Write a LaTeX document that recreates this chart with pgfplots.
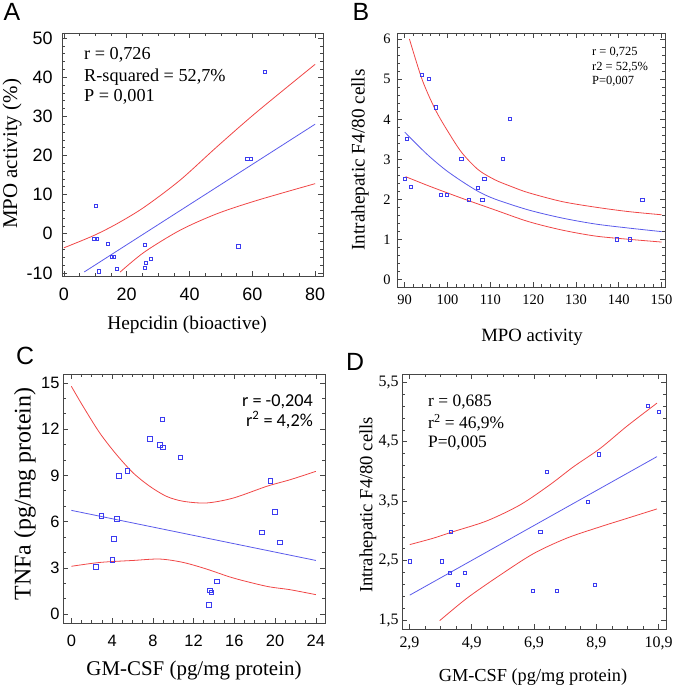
\documentclass[border=0pt]{standalone}
\usepackage{pgfplots}
\pgfplotsset{compat=1.18}
\usepackage{fontspec}
\setmainfont{Liberation Serif}
\newfontfamily\arial{Liberation Sans}
\newfontfamily\calibri{Carlito}
\definecolor{pt}{RGB}{60,60,240}
\definecolor{fitb}{RGB}{90,90,235}
\definecolor{cir}{RGB}{240,70,70}
\definecolor{frame}{RGB}{70,70,70}
\pgfplotsset{
  panel/.style={scale only axis, anchor=south west,
    axis line style={frame, line width=0.9pt},
    tick style={frame, line width=0.6pt},
    major tick length=5bp, minor tick length=3bp, tick align=inside,
    clip=true},
  pts/.style={only marks, mark=square, mark size=1.6bp, mark options={pt, line width=0.6pt}},
  fit/.style={no marks, smooth, fitb, line width=0.8pt},
  ci/.style={no marks, smooth, cir, line width=0.8pt},
}
\begin{document}
\begin{tikzpicture}
\path[use as bounding box] (0,0) rectangle (675bp,688bp);
% ---------------- A
\begin{axis}[panel, at={(62bp,412bp)}, width=261bp, height=243bp,
  xmin=-0.6, xmax=82.5, ymin=-10.8, ymax=51.3,
  xtick={0,20,40,60,80}, ytick={-10,0,10,20,30,40,50},
  xticklabels={0,20,40,60,80}, yticklabels={-10,0,10,20,30,40,50},
  minor x tick num=3, minor y tick num=4,
  ticklabel style={font=\arial\fontsize{18}{20}\selectfont},
  xticklabel style={yshift=-8bp}, yticklabel style={xshift=-6bp}]
\addplot[pts] coordinates {(10.1,7.2)(9.7,-1.3)(10.6,-1.3)(11.2,-9.6)(13.9,-2.6)(15.3,-5.8)(15.8,-5.8)(16.9,-9.0)(25.7,-2.9)(25.7,-8.7)(26.1,-7.4)(27.6,-6.4)(55.5,-3.2)(58.4,19.1)(59.6,19.1)(63.9,41.4)};
\addplot[fit] coordinates {(6.5,-9.76)(80,28.0)};
\addplot[ci] coordinates {(0,-3.6)(9.4,-0.5)(17,2.6)(25.6,6.8)(37,13.7)(48.7,22.2)(61.4,31.1)(80,43.3)};
\addplot[ci] coordinates {(17.9,-9.8)(25.6,-4.7)(37,0.9)(48.7,5.1)(61.4,8.5)(80,12.8)};
\end{axis}
% ---------------- B
\begin{axis}[panel, at={(397bp,401bp)}, width=268bp, height=254bp,
  xmin=88.2, xmax=150.8, ymin=-0.18, ymax=6.15,
  xtick={90,100,...,150}, ytick={0,1,...,6},
  xticklabels={90,100,110,120,130,140,150}, yticklabels={0,1,2,3,4,5,6},
  minor x tick num=4, minor y tick num=4,
  ticklabel style={font=\fontsize{14.5}{16}\selectfont},
  xticklabel style={yshift=-4bp}, yticklabel style={xshift=-3bp}]
\addplot[pts] coordinates {(90.0,2.51)(90.5,3.51)(91.4,2.31)(93.9,5.10)(95.7,5.0)(97.3,4.30)(98.5,2.11)(99.9,2.11)(103.2,3.01)(105.0,2.0)(107.0,2.30)(108.1,2.0)(108.6,2.51)(113.0,3.01)(114.5,4.01)(139.6,1.01)(142.5,1.01)(145.5,2.0)};
\addplot[fit] coordinates {(90,3.68)(92.5,3.41)(95.6,3.09)(99.5,2.74)(103.4,2.45)(107.2,2.20)(111.1,2.01)(118.9,1.74)(126.7,1.54)(134.5,1.39)(142.2,1.29)(150,1.20)};
\addplot[ci] coordinates {(91.1,6.0)(94.1,4.98)(97.2,4.23)(100.3,3.66)(103.4,3.16)(107.2,2.74)(111.1,2.49)(115.0,2.32)(118.9,2.17)(126.7,1.95)(134.5,1.81)(142.2,1.70)(150,1.62)};
\addplot[ci] coordinates {(90.2,2.57)(95.6,2.34)(103.4,2.03)(111.1,1.74)(118.9,1.45)(126.7,1.24)(134.5,1.09)(142.2,1.01)(150,0.94)};
\end{axis}
% ---------------- C
\begin{axis}[panel, at={(63bp,65bp)}, width=262bp, height=249bp,
  xmin=-0.82, xmax=24.9, ymin=-0.58, ymax=15.58,
  xtick={0,4,...,24}, ytick={0,3,...,15},
  xticklabels={0,4,8,12,16,20,24}, yticklabels={0,3,6,9,12,15},
  minor x tick num=3, minor y tick num=2,
  ticklabel style={font=\arial\fontsize{16.5}{18}\selectfont},
  xticklabel style={yshift=-9bp}]
\addplot[pts, mark size=2.3bp] coordinates {(2.39,3.05)(2.92,6.39)(4.0,3.53)(4.16,4.87)(4.49,6.19)(4.66,8.96)(5.48,9.31)(7.7,11.36)(8.66,11.0)(8.98,10.82)(8.92,12.64)(10.69,10.17)(13.48,0.61)(13.6,1.54)(13.74,1.41)(14.3,2.12)(18.72,5.30)(19.54,8.66)(20.0,6.65)(20.49,4.65)};
\addplot[fit] coordinates {(0,6.73)(24,3.48)};
\addplot[ci] coordinates {(0,14.78)(1.15,13.48)(2.79,11.75)(4.43,10.35)(6.07,9.16)(7.7,8.29)(9.34,7.64)(10.98,7.32)(13.28,7.21)(15.9,7.53)(19.18,8.29)(21.48,8.72)(24,9.26)};
\addplot[ci] coordinates {(0,3.10)(2.79,3.35)(6.07,3.48)(8.69,3.57)(10.98,3.35)(13.28,2.92)(15.9,2.34)(19.18,1.80)(21.48,1.58)(24,1.26)};
\end{axis}
% ---------------- D
\begin{axis}[panel, at={(402bp,59bp)}, width=264bp, height=255bp,
  xmin=2.66, xmax=11.14, ymin=1.35, ymax=5.64,
  xtick={2.9,4.9,6.9,8.9,10.9}, ytick={1.5,2.5,3.5,4.5,5.5},
  xticklabels={{2,9},{4,9},{6,9},{8,9},{10,9}}, yticklabels={{1,5},{2,5},{3,5},{4,5},{5,5}},
  minor x tick num=3, minor y tick num=4,
  ticklabel style={font=\fontsize{16}{18}\selectfont},
  xticklabel style={yshift=-4bp}]
\addplot[pts] coordinates {(2.91,2.49)(3.95,2.49)(4.19,2.29)(4.24,2.98)(4.44,2.09)(4.67,2.29)(6.87,1.99)(7.1,2.98)(7.3,3.99)(7.62,1.99)(8.62,3.49)(8.84,2.09)(8.97,4.29)(10.56,5.10)(10.9,5.0)};
\addplot[fit] coordinates {(2.91,1.92)(10.85,4.25)};
\addplot[ci] coordinates {(2.91,2.77)(3.68,2.88)(4.32,2.99)(5.39,3.17)(6.46,3.44)(7.42,3.78)(8.17,4.08)(9.03,4.39)(9.88,4.76)(10.85,5.15)};
\addplot[ci] coordinates {(3.87,1.49)(4.75,1.87)(5.82,2.26)(6.89,2.62)(7.96,2.88)(9.03,3.07)(9.88,3.21)(10.85,3.37)};
\end{axis}
% ---------------- texts
\begin{scope}[every node/.style={inner sep=0pt}]
\node[font=\arial\fontsize{25}{28}\selectfont] at (12bp,676bp) {A};
\node[font=\arial\fontsize{25}{28}\selectfont] at (361bp,676bp) {B};
\node[font=\arial\fontsize{25}{28}\selectfont] at (25bp,332bp) {C};
\node[font=\arial\fontsize{25}{28}\selectfont] at (355bp,326bp) {D};
% A
\node[anchor=west, font=\fontsize{18.3}{20}\selectfont] at (84bp,633bp) {r = 0,726};
\node[anchor=west, font=\fontsize{18.3}{20}\selectfont] at (84bp,611bp) {R-squared = 52,7\%};
\node[anchor=west, font=\fontsize{18.3}{20}\selectfont] at (84bp,591bp) {P = 0,001};
\node[font=\fontsize{19.4}{21}\selectfont] at (187bp,363bp) {Hepcidin (bioactive)};
\node[rotate=90, font=\fontsize{21}{23}\selectfont] at (12bp,534bp) {MPO activity (\%)};
% B
\node[anchor=west, font=\fontsize{12.5}{14}\selectfont] at (592bp,636bp) {r = 0,725};
\node[anchor=west, font=\fontsize{12.5}{14}\selectfont] at (592bp,621bp) {r2 = 52,5\%};
\node[anchor=west, font=\fontsize{12.5}{14}\selectfont] at (592bp,607bp) {P=0,007};
\node[font=\fontsize{18.8}{21}\selectfont] at (532bp,351bp) {MPO activity};
\node[rotate=90, font=\fontsize{19.3}{21}\selectfont] at (360bp,528bp) {Intrahepatic F4/80 cells};
% C
\node[anchor=east, font=\calibri\fontsize{18.3}{20}\selectfont] at (313bp,286bp) {r = -0,204};
\node[anchor=east, font=\calibri\fontsize{18.3}{20}\selectfont] at (313bp,268bp) {r\textsuperscript{2} = 4,2\%};
\node[font=\fontsize{21}{23}\selectfont] at (194bp,18bp) {GM-CSF (pg/mg protein)};
\node[rotate=90, font=\fontsize{24}{26}\selectfont] at (25bp,194bp) {TNFa (pg/mg protein)};
% D
\node[anchor=west, font=\fontsize{17.5}{19}\selectfont] at (428bp,286bp) {r = 0,685};
\node[anchor=west, font=\fontsize{17.5}{19}\selectfont] at (428bp,265bp) {r\textsuperscript{2} = 46,9\%};
\node[anchor=west, font=\fontsize{17.5}{19}\selectfont] at (428bp,245bp) {P=0,005};
\node[font=\fontsize{18.4}{20}\selectfont] at (533bp,11bp) {GM-CSF (pg/mg protein)};
\node[rotate=90, font=\fontsize{18.7}{20}\selectfont] at (368bp,183bp) {Intrahepatic F4/80 cells};
\end{scope}
\end{tikzpicture}
\end{document}
